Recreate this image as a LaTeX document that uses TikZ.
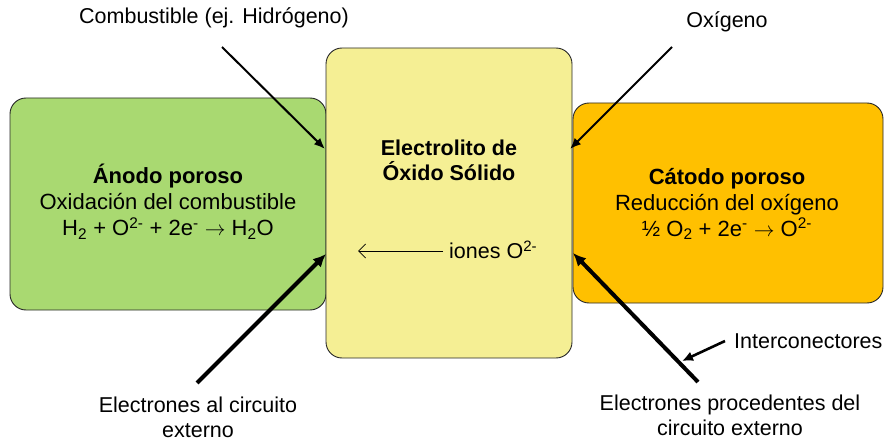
\documentclass[tikz,border=0pt]{standalone}
\usepackage{fontspec}
\setmainfont{Liberation Sans}
\usetikzlibrary{arrows.meta}
\definecolor{anodegreen}{RGB}{169,217,113}
\definecolor{electyellow}{RGB}{245,239,148}
\definecolor{cathorange}{RGB}{255,192,0}
\definecolor{edgegray}{RGB}{40,40,40}
\newcommand{\rxarrow}{\ $\rightarrow$\ }
\tikzset{
  cellbox/.style={draw=edgegray, line width=0.9pt, rounded corners=16pt, inner sep=0pt},
  boxtext/.style={align=center, font=\fontsize{22}{26}\selectfont, inner sep=0pt},
  labeltext/.style={align=center, font=\fontsize{21.5}{25}\selectfont, inner sep=0pt},
  feedarrow/.style={line width=2pt, -{Latex[length=11pt,width=9pt]}},
  elecarrow/.style={line width=4pt, -{Latex[length=13pt,width=12pt]}},
  interarrow/.style={line width=2.6pt, -{Latex[length=11pt,width=10pt]}},
  ionarrow/.style={line width=0.8pt, -{Straight Barb[length=7pt,width=14pt]}}
}
\begin{document}
\begin{tikzpicture}[x=1pt,y=-1pt]
\useasboundingbox (0,0) rectangle (887,441);
% boxes
\node[cellbox, fill=anodegreen, minimum width=316pt, minimum height=212pt] (anode) at (168,204) {};
\node[cellbox, fill=electyellow, minimum width=246pt, minimum height=310pt] (electrolyte) at (449,203) {};
\node[cellbox, fill=cathorange, minimum width=310pt, minimum height=200pt] (cathode) at (728,203) {};
% box texts
\node[boxtext] (anodetxt) at (168,202) {\textbf{Ánodo poroso}\\Oxidación del combustible\\H\textsubscript{2} + O\textsuperscript{2-} + 2e\textsuperscript{-}\rxarrow H\textsubscript{2}O};
\node[boxtext] (cathtxt) at (727,204) {\textbf{Cátodo poroso}\\Reducción del oxígeno\\½ O\textsubscript{2} + 2e\textsuperscript{-}\rxarrow O\textsuperscript{2-}};
\node[boxtext, font=\bfseries\fontsize{21.5}{25}\selectfont] (elecname) at (449,160) {Electrolito de\\Óxido Sólido};
\node[boxtext, anchor=west, font=\fontsize{21.5}{25}\selectfont] (iones) at (449,250) {iones O\textsuperscript{2-}};
% outside labels
\node[labeltext] (comb) at (214,18) {Combustible (ej. Hidrógeno)};
\node[labeltext] (oxig) at (727,22) {Oxígeno};
\node[labeltext] (eout) at (198,417) {Electrones al circuito\\externo};
\node[labeltext] (ein) at (730,415) {Electrones procedentes del\\circuito externo};
\node[labeltext, anchor=west] (inter) at (734,341) {Interconectores};
% arrow end points
\coordinate (combS) at (222,47);
\coordinate (combE) at (325,149);
\coordinate (oxS) at (672,47);
\coordinate (oxE) at (570,149);
\coordinate (eoutS) at (197,383);
\coordinate (eoutE) at (326,254);
\coordinate (einS) at (698,382);
\coordinate (einE) at (573,253);
\coordinate (interS) at (725,341);
\coordinate (interE) at (682,361);
\coordinate (ionS) at (443,251);
\coordinate (ionE) at (358,251);
% arrows
\draw[feedarrow] (combS) -- (combE);
\draw[feedarrow] (oxS) -- (oxE);
\draw[elecarrow] (eoutS) -- (eoutE);
\draw[elecarrow] (einS) -- (einE);
\draw[interarrow] (interS) -- (interE);
\draw[ionarrow] (ionS) -- (ionE);
\end{tikzpicture}
\end{document}
